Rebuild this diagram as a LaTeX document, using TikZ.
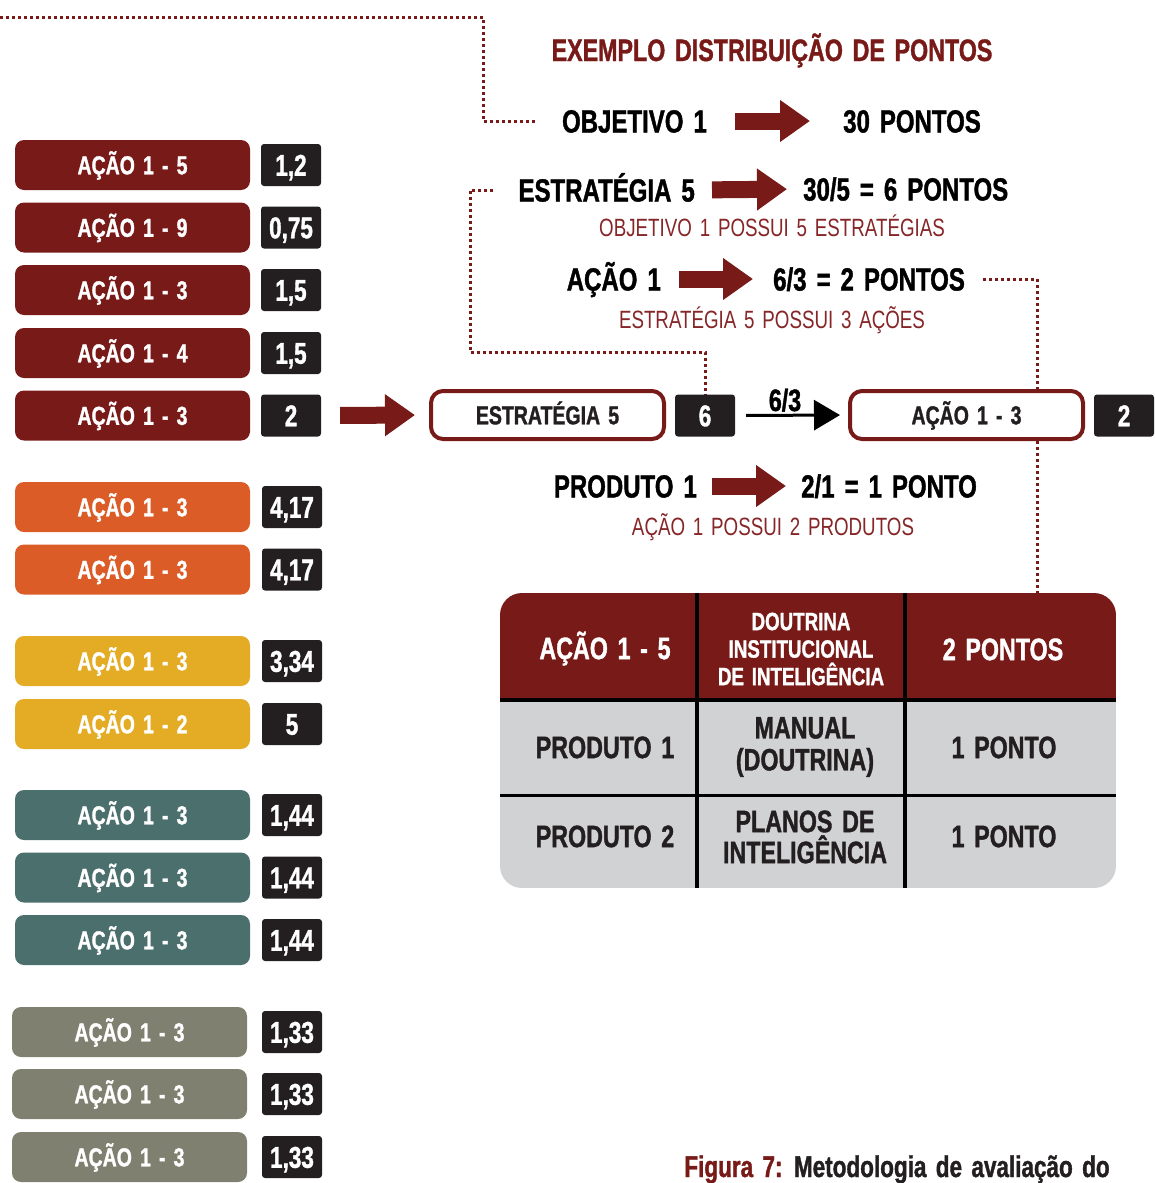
\documentclass[tikz,border=0pt]{standalone}
\usepackage{fontspec}
\setmainfont{Liberation Sans}[FakeStretch=0.75, WordSpace=1.5, BoldFeatures={FakeBold=1.2}]
\usetikzlibrary{arrows.meta,backgrounds}

\definecolor{ared}{HTML}{771A18}
\definecolor{sred}{HTML}{862628}
\definecolor{aorange}{HTML}{DB5C27}
\definecolor{ayellow}{HTML}{E3AC24}
\definecolor{ateal}{HTML}{4B6F6D}
\definecolor{aolive}{HTML}{808070}
\definecolor{ink}{HTML}{231F20}
\definecolor{cellgray}{HTML}{D1D2D3}

\newcommand{\fs}[1]{\fontsize{#1}{#1}\selectfont}

\tikzset{
  every node/.style={inner sep=0pt},
  actbox/.style={rounded corners=9pt, minimum width=235pt, minimum height=50pt,
    text=white, font=\bfseries\fs{26}, text height=18.6pt, text depth=0pt},
  numbox/.style={fill=ink, rounded corners=3pt, minimum width=60pt, minimum height=42pt,
    text=white, font=\bfseries\fs{30}, text height=21.5pt, text depth=0pt},
  outbox/.style={draw=ared, line width=4pt, fill=white, rounded corners=12pt,
    minimum width=233pt, minimum height=48pt, text=ink, font=\bfseries\fs{26},
    text height=18.6pt, text depth=0pt},
  headtxt/.style={text=black, font=\bfseries\fs{32}, text height=23pt, text depth=0pt},
  subtxt/.style={text=sred, font=\fs{25}, text height=18pt, text depth=0pt},
  titletxt/.style={text=ared, font=\bfseries\fs{31}, text height=22pt, text depth=0pt},
  celltxt/.style={font=\bfseries\fs{31}, text height=22.2pt, text depth=0pt},
  bigarrow/.style={draw=ared, line width=17pt, -{Triangle[length=30pt,width=40pt]}},
  blackarrow/.style={draw=black, line width=3pt, -{Triangle[length=26pt,width=30pt]}},
  dots/.style={draw=ared, line width=3pt, dash pattern=on 3pt off 3pt},
}

\begin{document}
\begin{tikzpicture}[x=1pt,y=-1pt]
\useasboundingbox (0,0) rectangle (1154,1183);

% ---- left column: actions and their points ----
\node[actbox, fill=ared] (a1) at (132.5,165) {AÇÃO 1 - 5};
\node[numbox] (v1) at (291,165) {1,2};
\node[actbox, fill=ared] (a2) at (132.5,227.5) {AÇÃO 1 - 9};
\node[numbox] (v2) at (291,227.5) {0,75};
\node[actbox, fill=ared] (a3) at (132.5,290) {AÇÃO 1 - 3};
\node[numbox] (v3) at (291,290) {1,5};
\node[actbox, fill=ared] (a4) at (132.5,353) {AÇÃO 1 - 4};
\node[numbox] (v4) at (291,353) {1,5};
\node[actbox, fill=ared] (a5) at (132.5,415.5) {AÇÃO 1 - 3};
\node[numbox] (v5) at (291,415.5) {2};

\node[actbox, fill=aorange] (a6) at (132.5,507) {AÇÃO 1 - 3};
\node[numbox] (v6) at (292,507) {4,17};
\node[actbox, fill=aorange] (a7) at (132.5,569.5) {AÇÃO 1 - 3};
\node[numbox] (v7) at (292,569.5) {4,17};

\node[actbox, fill=ayellow] (a8) at (132.5,661) {AÇÃO 1 - 3};
\node[numbox] (v8) at (292,661) {3,34};
\node[actbox, fill=ayellow] (a9) at (132.5,724) {AÇÃO 1 - 2};
\node[numbox] (v9) at (292,724) {5};

\node[actbox, fill=ateal] (a10) at (132.5,815) {AÇÃO 1 - 3};
\node[numbox] (v10) at (292,815) {1,44};
\node[actbox, fill=ateal] (a11) at (132.5,877.5) {AÇÃO 1 - 3};
\node[numbox] (v11) at (292,877.5) {1,44};
\node[actbox, fill=ateal] (a12) at (132.5,940) {AÇÃO 1 - 3};
\node[numbox] (v12) at (292,940) {1,44};

\node[actbox, fill=aolive] (a13) at (129.5,1032) {AÇÃO 1 - 3};
\node[numbox] (v13) at (292,1032) {1,33};
\node[actbox, fill=aolive] (a14) at (129.5,1094) {AÇÃO 1 - 3};
\node[numbox] (v14) at (292,1094) {1,33};
\node[actbox, fill=aolive] (a15) at (129.5,1157) {AÇÃO 1 - 3};
\node[numbox] (v15) at (292,1157) {1,33};

% ---- example of point distribution ----
\node[titletxt] (title) at (772,50) {EXEMPLO DISTRIBUIÇÃO DE PONTOS};

\node[headtxt, anchor=east] (obj) at (707,121) {OBJETIVO 1};
\node[headtxt, anchor=west] (obp) at (843,121) {30 PONTOS};
\draw[bigarrow, shorten <=28pt, shorten >=33pt] (obj.east) -- (obp.west);

\node[headtxt, anchor=east] (est) at (695,190) {ESTRATÉGIA 5};
\node[headtxt, anchor=west] (esp) at (803,189) {30/5 = 6 PONTOS};
\draw[bigarrow, shorten <=17pt, shorten >=16pt] (est.east) -- (esp.west);
\node[subtxt] (ess) at (772,227) {OBJETIVO 1 POSSUI 5 ESTRATÉGIAS};

\node[headtxt, anchor=east] (aca) at (661,279) {AÇÃO 1};
\node[headtxt, anchor=west] (acp) at (773,279) {6/3 = 2 PONTOS};
\draw[bigarrow, shorten <=18pt, shorten >=20pt] (aca.east) -- (acp.west);
\node[subtxt] (acs) at (772,319) {ESTRATÉGIA 5 POSSUI 3 AÇÕES};

\node[headtxt, anchor=east] (pro) at (697,486) {PRODUTO 1};
\node[headtxt, anchor=west] (prp) at (801,486) {2/1 = 1 PONTO};
\draw[bigarrow, shorten <=15pt, shorten >=15pt] (pro.east) -- (prp.west);
\node[subtxt] (prs) at (773,526) {AÇÃO 1 POSSUI 2 PRODUTOS};

% ---- strategy to action chain ----
\node[outbox] (sbox) at (547.5,415) {ESTRATÉGIA 5};
\node[numbox] (s6) at (705,415.5) {6};
\node[outbox] (abox) at (966.5,415) {AÇÃO 1 - 3};
\node[numbox] (a2pt) at (1124,415.5) {2};
\draw[bigarrow, shorten <=19pt, shorten >=14pt] (v5.east) -- (sbox.west);
\draw[blackarrow, shorten <=11pt, shorten >=8pt] (s6.east) -- (abox.west);
\node[font=\bfseries\fs{31}, text height=22pt, text depth=0pt] (ratio) at (785,400) {6/3};

% ---- detail table ----
\coordinate (tabtop) at (1037,593);
\begin{scope}
  \clip[rounded corners=22pt] (500,593) rectangle (1116,888);
  \fill[ared] (500,593) rectangle (1116,700);
  \fill[cellgray] (500,700) rectangle (1116,888);
  \draw[black, line width=4pt] (500,700) -- (1116,700);
  \draw[black, line width=3pt] (500,795) -- (1116,795);
  \draw[black, line width=4pt] (697,593) -- (697,888);
  \draw[black, line width=4pt] (905,593) -- (905,888);
\end{scope}

\node[celltxt, text=white] (h1) at (605,648) {AÇÃO 1 - 5};
\node[text=white, font=\bfseries\fontsize{25}{27.5}\selectfont, align=center]
  (h2) at (801,649) {DOUTRINA\\INSTITUCIONAL\\DE INTELIGÊNCIA};
\node[celltxt, text=white] (h3) at (1003,649) {2 PONTOS};

\node[celltxt, text=ink] (p1) at (605,747) {PRODUTO 1};
\node[text=ink, font=\bfseries\fontsize{31}{32}\selectfont, align=center]
  (p1d) at (805,747) {MANUAL\\(DOUTRINA)};
\node[celltxt, text=ink] (p1p) at (1004,747) {1 PONTO};

\node[celltxt, text=ink] (p2) at (605,836) {PRODUTO 2};
\node[text=ink, font=\bfseries\fontsize{31}{31}\selectfont, align=center]
  (p2d) at (805,837) {PLANOS DE\\INTELIGÊNCIA};
\node[celltxt, text=ink] (p2p) at (1004,836) {1 PONTO};

% ---- dotted guide lines, behind everything ----
\coordinate (topl) at (0,17);
\coordinate (bend1) at (483,121);
\coordinate (bend2) at (470,352);
\begin{scope}[on background layer]
  \draw[dots, shorten >=27pt] (topl) -| (bend1) -- (obj.west);
  \draw[dots, shorten <=25pt] (est.west) -| (bend2) -| (s6.north);
  \draw[dots, shorten <=18pt] (acp.east) -| (tabtop);
\end{scope}

% ---- caption ----
\node[anchor=base, text=ink, font=\bfseries\fs{30}] (cap) at (897,1177)
  {\textcolor{ared}{Figura 7:} Metodologia de avaliação do};

\end{tikzpicture}
\end{document}
